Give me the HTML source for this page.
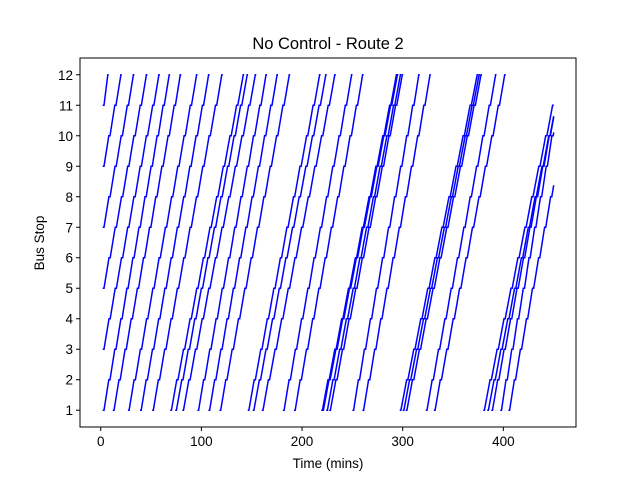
<!DOCTYPE html>
<html><head><meta charset="utf-8"><style>
body{margin:0;background:#fff;}
svg{display:block;font-family:"Liberation Sans","DejaVu Sans",sans-serif;}
</style></head><body>
<svg id="chart" width="640" height="480">
<rect width="640" height="480" fill="#fff"/>
<text x="328" y="49" text-anchor="middle" font-size="16.5">No Control - Route 2</text>
<g id="plot"></g>
<g id="axes"></g>
<text x="328" y="468" text-anchor="middle" font-size="13.5">Time (mins)</text>
<text transform="translate(44,243) rotate(-90)" text-anchor="middle" font-size="13.5">Bus Stop</text>
</svg>
<script>
// data
const startTimes = [2,2,2,2,2,2,12,27,39,51,69,74,81,96,107,118,146,151,160,181,192,219,220,224,227,250,260,297,300,303,323,331,380,384,388,397,405];
const startStops = [1,3,5,7,9,11,1,1,1,1,1,1,1,1,1,1,1,1,1,1,1,1,1,1,1,1,1,1,1,1,1,1,1,1,1,1,1];
const linkTimes  = [6.0,6.2,6.2,6.1,6.0,5.0,6.1,6.2,6.2,6.3,6.6,6.5,6.6,6.2,6.2,6.3,6.5,6.6,6.6,6.2,6.2,6.8,6.8,6.7,6.6,6.0,6.1,7.0,6.9,6.8,6.3,6.4,6.9,6.8,6.4,5.7,6.0];
const xTicks = [0,100,200,300,400];
const yTicks = [1,2,3,4,5,6,7,8,9,10,11,12];
const endTime = 450;
const lastStop = 12;
const dwell = 1.2;

const X0=80,X1=576,Y0=58,Y1=427;
const xMin=-20.6,xMax=472.2,yMin=0.45,yMax=12.55;
const xs=t=>X0+(t-xMin)/(xMax-xMin)*(X1-X0);
const ys=s=>Y1-(s-yMin)/(yMax-yMin)*(Y1-Y0);
const NS='http://www.w3.org/2000/svg';
const plot=document.getElementById('plot'), axes=document.getElementById('axes');

startTimes.forEach((t0,i)=>{
  let pts=[[t0,startStops[i]]];
  let t=t0, s=startStops[i], L=linkTimes[i];
  const push=(tt,ss)=>{
    const [pt,psv]=pts[pts.length-1];
    if(tt>endTime){ const f=(endTime-pt)/(tt-pt); pts.push([endTime,psv+(ss-psv)*f]); return false;}
    pts.push([tt,ss]); return true;
  };
  let ok=true;
  while(s<lastStop && ok){
    ok=push(t+dwell,s); if(!ok)break;
    t+=L; s+=1;
    ok=push(t,s);
  }
  if(ok) push(t+dwell*0.8,s);
  const p=document.createElementNS(NS,'polyline');
  p.setAttribute('points',pts.map(q=>xs(q[0]).toFixed(1)+','+ys(q[1]).toFixed(1)).join(' '));
  p.setAttribute('fill','none');p.setAttribute('stroke','#0000ff');p.setAttribute('stroke-width','1.5');
  
  
  plot.appendChild(p);
});

const fr=document.createElementNS(NS,'rect');
fr.setAttribute('x',X0);fr.setAttribute('y',Y0);fr.setAttribute('width',X1-X0);fr.setAttribute('height',Y1-Y0);
fr.setAttribute('fill','none');fr.setAttribute('stroke','#000');fr.setAttribute('stroke-width','1');


axes.appendChild(fr);

xTicks.forEach(v=>{
  const x=xs(v);
  const l=document.createElementNS(NS,'line');
  l.setAttribute('x1',x);l.setAttribute('x2',x);l.setAttribute('y1',Y1);l.setAttribute('y2',Y1+4);l.setAttribute('stroke','#000');
  
  
  axes.appendChild(l);
  const tx=document.createElementNS(NS,'text');
  tx.setAttribute('x',x);tx.setAttribute('y',Y1+19);tx.setAttribute('text-anchor','middle');tx.setAttribute('font-size','13.5');
  tx.textContent=v;
  
  
  axes.appendChild(tx);
});
yTicks.forEach(v=>{
  const y=ys(v);
  const l=document.createElementNS(NS,'line');
  l.setAttribute('x1',X0-4);l.setAttribute('x2',X0);l.setAttribute('y1',y);l.setAttribute('y2',y);l.setAttribute('stroke','#000');
  
  
  axes.appendChild(l);
  const tx=document.createElementNS(NS,'text');
  tx.setAttribute('x',X0-7);tx.setAttribute('y',y+5);tx.setAttribute('text-anchor','end');tx.setAttribute('font-size','13.5');
  tx.textContent=v;
  
  
  axes.appendChild(tx);
});
</script>
</body></html>
